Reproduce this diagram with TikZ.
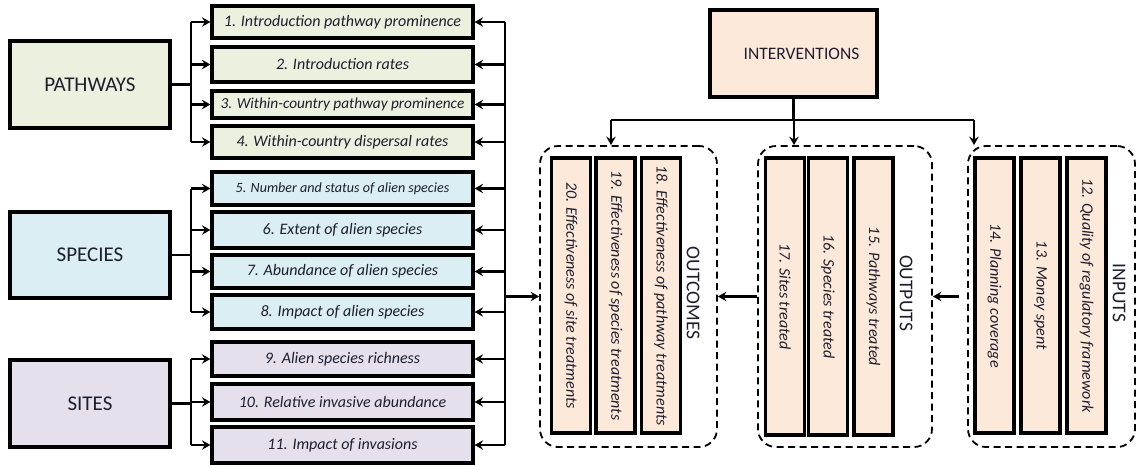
\documentclass[tikz,border=0pt]{standalone}
\usepackage{fontspec}
\setmainfont{Carlito}
\usetikzlibrary{arrows.meta}
\definecolor{pwfill}{HTML}{EBF1DE}
\definecolor{spfill}{HTML}{DAEEF3}
\definecolor{stfill}{HTML}{E6E0EC}
\definecolor{orfill}{HTML}{FDE9D9}
\definecolor{txt}{HTML}{1E1E2E}
\tikzset{
  bigbox/.style={draw, line width=3.2pt, inner sep=0pt, minimum width=160pt, minimum height=87pt, text=txt, font=\fontsize{21}{24}\selectfont},
  itembox/.style={draw, line width=3.2pt, inner sep=0pt, minimum width=261pt, text=txt, font=\fontsize{16}{18}\selectfont\itshape},
  tallbox/.style={draw, line width=3.2pt, inner sep=0pt, fill=orfill, rotate=-90, minimum height=39pt, text=txt, font=\fontsize{16}{18}\selectfont\itshape},
  groupbox/.style={draw, dashed, dash pattern=on 7pt off 4.5pt, line width=1.8pt, rounded corners=18pt, inner sep=0pt, minimum height=301pt},
  grouplabel/.style={rotate=-90, inner sep=0pt, text=txt, font=\fontsize{19.5}{22}\selectfont},
  conn/.style={line width=2.8pt},
  arr/.style={line width=2.8pt, -{Stealth[length=8.5pt,width=9.5pt,inset=3pt]}},
}
\begin{document}
\begin{tikzpicture}[x=1pt,y=-1pt]
\useasboundingbox (0,0) rectangle (1138,464);
% left category boxes
\node[bigbox, fill=pwfill] (pw) at (90,84.5) {PATHWAYS};
\node[bigbox, fill=spfill, minimum height=86pt] (sp) at (90,255) {SPECIES};
\node[bigbox, fill=stfill] (st) at (90,403.5) {SITES};
% item boxes
\node[itembox, fill=pwfill, minimum height=32pt] (b1) at (342.5,22) {1. Introduction pathway prominence};
\node[itembox, fill=pwfill, minimum height=35pt] (b2) at (342.5,64.5) {2. Introduction rates};
\node[itembox, fill=pwfill, minimum height=27pt, font=\fontsize{15.3}{17}\selectfont\itshape] (b3) at (342.5,104.5) {3. Within-country pathway prominence};
\node[itembox, fill=pwfill, minimum height=32pt] (b4) at (342.5,142) {4. Within-country dispersal rates};
\node[itembox, fill=spfill, minimum height=33pt, font=\fontsize{14.1}{16}\selectfont\itshape] (b5) at (342.5,188.5) {5. Number and status of alien species};
\node[itembox, fill=spfill, minimum height=36pt] (b6) at (342.5,230) {6. Extent of alien species};
\node[itembox, fill=spfill, minimum height=33pt] (b7) at (342.5,271.5) {7. Abundance of alien species};
\node[itembox, fill=spfill, minimum height=34pt] (b8) at (342.5,312) {8. Impact of alien species};
\node[itembox, fill=stfill, minimum height=34pt] (b9) at (342.5,359) {9. Alien species richness};
\node[itembox, fill=stfill, minimum height=36pt] (b10) at (342.5,402) {10. Relative invasive abundance};
\node[itembox, fill=stfill, minimum height=36pt] (b11) at (342.5,445) {11. Impact of invasions};
% interventions
\node[bigbox, fill=orfill, minimum width=167pt, font=\fontsize{17.5}{20}\selectfont] (int) at (793.5,53.5) {\hspace*{16pt}\raisebox{-2pt}{INTERVENTIONS}};
% groups
\node[groupbox, minimum width=177pt] (outc) at (628.5,296.5) {};
\node[groupbox, minimum width=174pt] (outp) at (845,296.5) {};
\node[groupbox, minimum width=167pt] (inp) at (1051.5,296.5) {};
% tall boxes
\node[tallbox, minimum width=275pt] (t20) at (571,295.5) {20. Effectiveness of site treatments};
\node[tallbox, minimum width=275pt] (t19) at (615.5,295.5) {19. Effectiveness of species treatments};
\node[tallbox, minimum width=275pt] (t18) at (661,295.5) {18. Effectiveness of pathway treatments};
\node[grouplabel] (lOutc) at (693,293) {OUTCOMES};
\node[tallbox, minimum width=277pt] (t17) at (785,296.5) {17. Sites treated};
\node[tallbox, minimum width=277pt] (t16) at (828,296.5) {16. Species treated};
\node[tallbox, minimum width=277pt] (t15) at (873.5,296.5) {15. Pathways treated};
\node[grouplabel] (lOutp) at (906,293) {OUTPUTS};
\node[tallbox, minimum width=275pt] (t14) at (994.5,295.5) {14. Planning coverage};
\node[tallbox, minimum width=275pt] (t13) at (1040.5,295.5) {13. Money spent};
\node[tallbox, minimum width=275pt] (t12) at (1086.5,295.5) {12. Quality of regulatory framework};
\node[grouplabel] (lInp) at (1119,293) {INPUTS};
% left buses
\coordinate (lbus) at (191,0);
\draw[conn] (pw.east) -- (pw.east -| lbus);
\draw[conn] (b1.west -| lbus) -- (b4.west -| lbus);
\foreach \b in {b1,b2,b3,b4} \draw[arr] (\b.west -| lbus) -- (\b.west);
\draw[conn] (sp.east) -- (sp.east -| lbus);
\draw[conn] (b5.west -| lbus) -- (b8.west -| lbus);
\foreach \b in {b5,b6,b7,b8} \draw[arr] (\b.west -| lbus) -- (\b.west);
\draw[conn] (st.east) -- (st.east -| lbus);
\draw[conn] (b9.west -| lbus) -- (b11.west -| lbus);
\foreach \b in {b9,b10,b11} \draw[arr] (\b.west -| lbus) -- (\b.west);
% right bus
\coordinate (rbus) at (505,0);
\draw[conn] (b1.east -| rbus) -- (b11.east -| rbus);
\foreach \b in {b1,b2,b3,b4,b5,b6,b7,b8,b9,b10,b11} \draw[arr] (\b.east -| rbus) -- (\b.east);
\draw[arr] (outc.west -| rbus) -- (outc.west);
% interventions tree
\coordinate (hO) at (611,120);
\coordinate (hP) at (794,120);
\coordinate (hI) at (974,120);
\draw[conn] (int.south) -- (int.south |- hP);
\draw[conn] (hO) -- (hI);
\draw[arr] (hO) -- (hO |- outc.north);
\draw[arr] (hP) -- (hP |- outp.north);
\draw[arr] (hI) -- (hI |- inp.north);
% group arrows
\draw[arr] (outp.west) -- (outc.east);
\draw[arr] ([xshift=-8pt]inp.west) -- (outp.east);
\end{tikzpicture}
\end{document}
